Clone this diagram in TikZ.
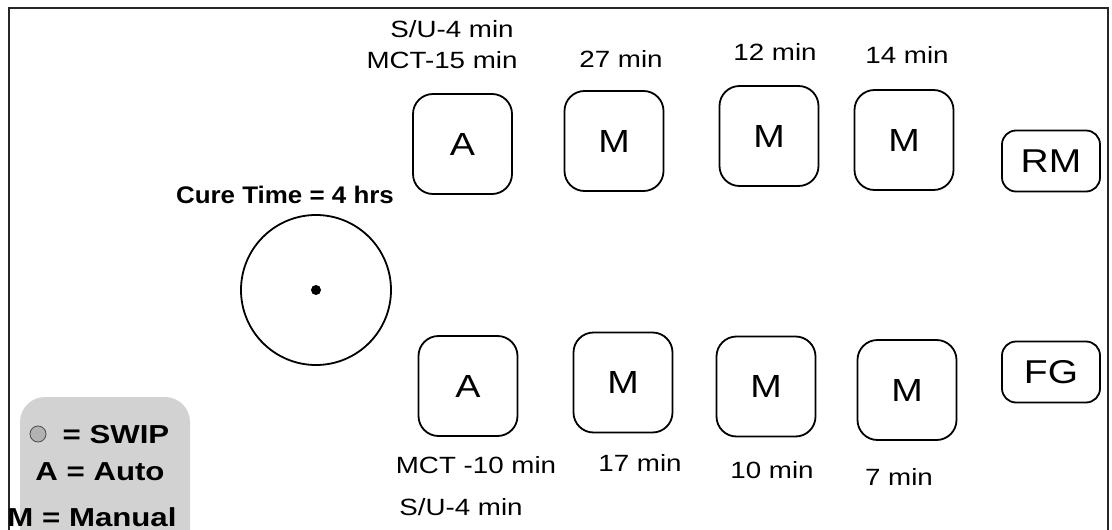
\documentclass[tikz,border=0pt]{standalone}
\usepackage{fontspec}
\setmainfont{Liberation Sans}
\newfontfamily\lblfont[FakeStretch=1.18]{Liberation Sans}
\newfontfamily\boldlbl[FakeStretch=1.08]{Liberation Sans Bold}
\newfontfamily\legfont[FakeStretch=1.2]{Liberation Sans Bold}
\begin{document}
\begin{tikzpicture}[x=1pt,y=-1pt,
  frameline/.style={line width=2pt,draw=black!85},
  proc/.style={draw,line width=1.8pt,rounded corners=20pt,minimum width=99pt,minimum height=100pt,inner sep=0pt,font=\lblfont\fontsize{32}{32}\selectfont},
  endbox/.style={draw,line width=1.8pt,rounded corners=14pt,minimum width=98pt,minimum height=61pt,inner sep=0pt,font=\lblfont\fontsize{33}{33}\selectfont},
  lbl/.style={anchor=base,inner sep=0pt,font=\lblfont\fontsize{23.5}{23.5}\selectfont},
  blbl/.style={anchor=base,inner sep=0pt,font=\boldlbl\fontsize{24}{24}\selectfont},
  leg/.style={anchor=base,inner sep=0pt,font=\legfont\fontsize{26}{26}\selectfont}]
\useasboundingbox (0,0) rectangle (1112,530);
% frame
\draw[frameline] (9,532) -- (9,8) -- (1108,8) -- (1108,532);
% legend
\fill[fill=gray!35] (20,540) -- (20,422) arc (180:270:25) -- (165,397) arc (270:360:25) -- (190,540) -- cycle;
\node[circle,draw=black!70,fill=gray!60,line width=0.8pt,minimum size=16pt,inner sep=0pt] (swipsym) at (38,434) {};
\node[leg] (l1) at (116,443) {= SWIP};
\node[leg] (l2) at (100,480) {A = Auto};
\node[leg] (l3) at (92,526) {M = Manual};
% cure
\node[blbl] (cure) at (285,203) {Cure Time = 4 hrs};
\node[circle,draw,line width=1.8pt,minimum size=150pt,inner sep=0pt] (swip) at (316,290) {};
\fill (swip.center) circle (5pt);
% top row
\node[proc] (a1) at (462.5,144) {A};
\node[proc] (m1) at (614,141) {M};
\node[proc] (m2) at (769,136) {M};
\node[proc] (m3) at (904,140) {M};
\node[endbox] (rm) at (1051,161) {RM};
% bottom row
\node[proc] (a2) at (468,386) {A};
\node[proc] (m4) at (623,382.5) {M};
\node[proc] (m5) at (766,386.5) {M};
\node[proc] (m6) at (907,390) {M};
\node[endbox] (fg) at (1051,372) {FG};
% labels top
\node[lbl] (t1a) at (452,37) {S/U-4 min};
\node[lbl] (t1b) at (442,68) {MCT-15 min};
\node[lbl] (t2) at (621,67) {27 min};
\node[lbl] (t3) at (775,60) {12 min};
\node[lbl] (t4) at (907,63) {14 min};
% labels bottom
\node[lbl] (b1a) at (476,473) {MCT -10 min};
\node[lbl] (b1b) at (461,515) {S/U-4 min};
\node[lbl] (b2) at (640,471) {17 min};
\node[lbl] (b3) at (772,478) {10 min};
\node[lbl] (b4) at (899,485) {7 min};
\end{tikzpicture}
\end{document}
